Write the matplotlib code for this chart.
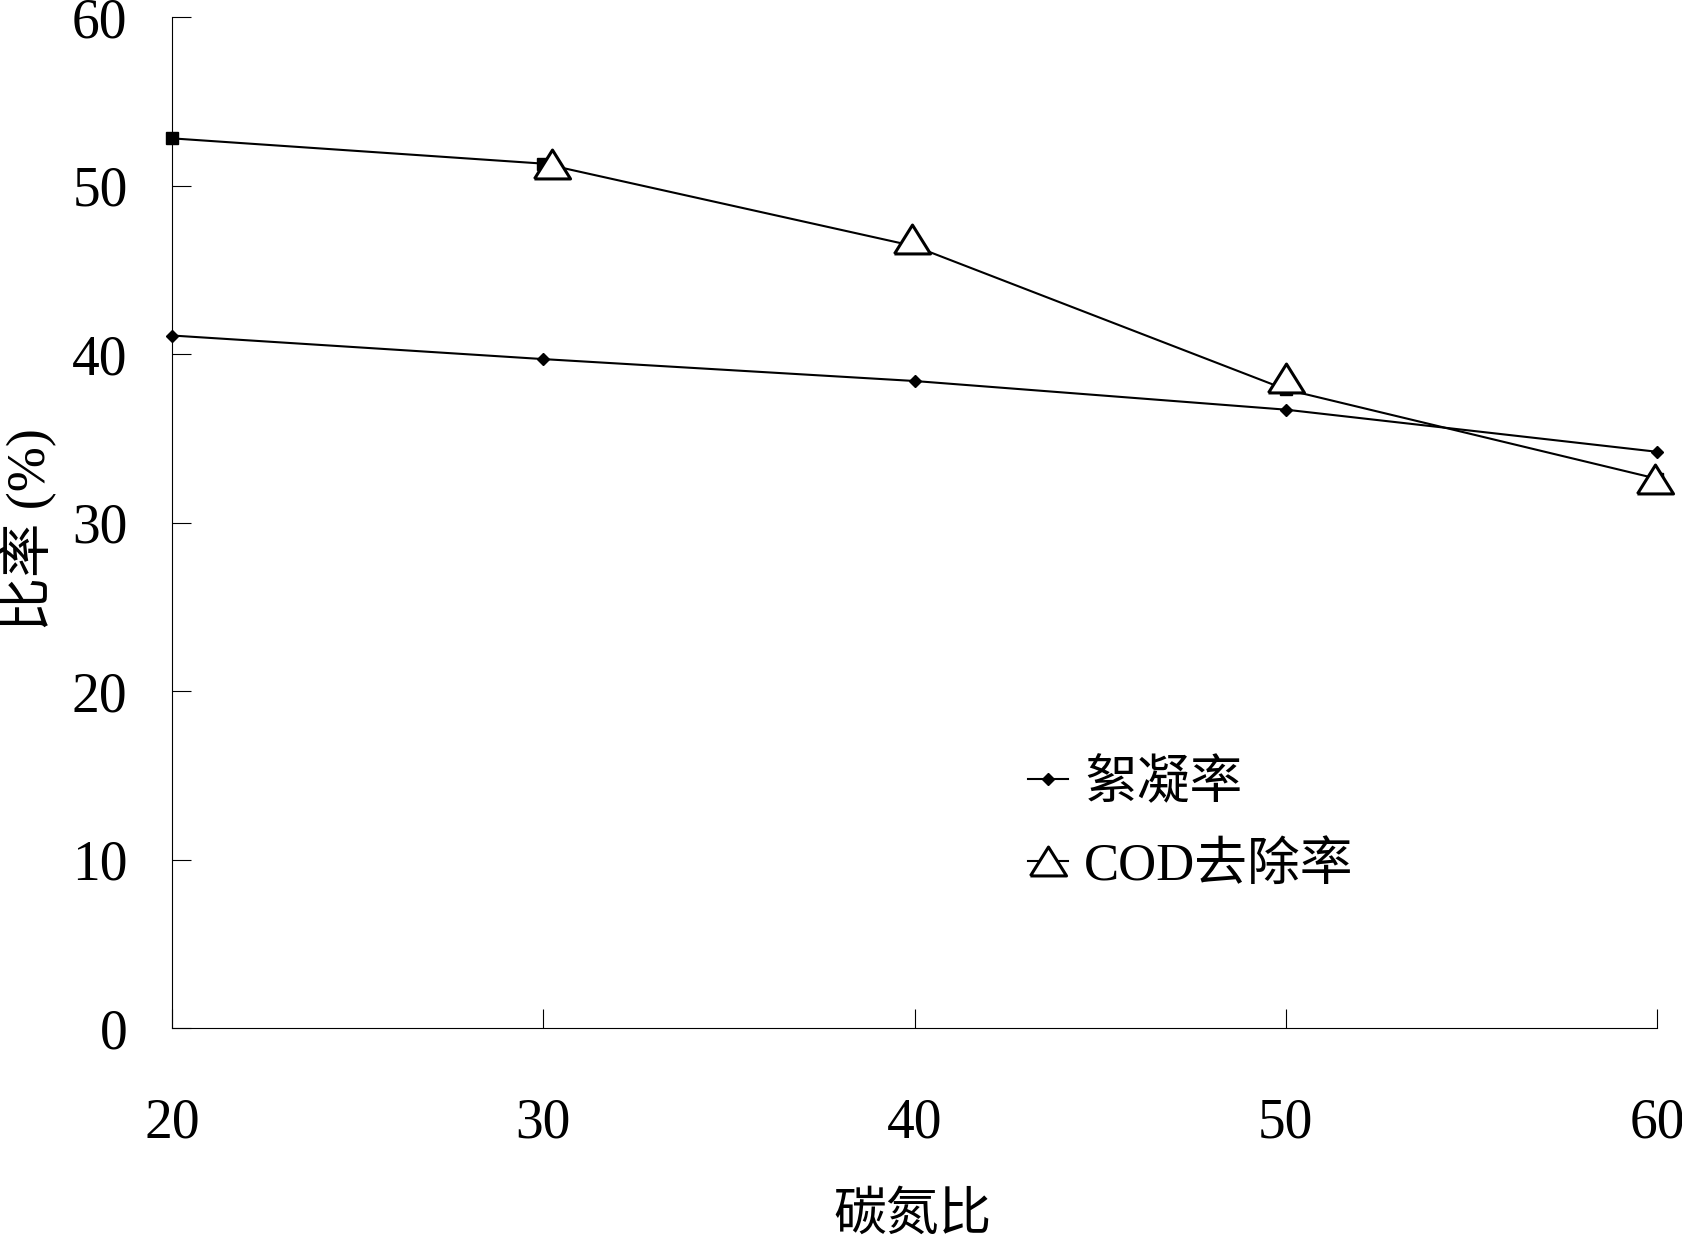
import matplotlib
matplotlib.use("Agg")
import matplotlib.pyplot as plt

plt.rcParams['font.family'] = ['Liberation Serif', 'Noto Sans CJK SC']

# data
cn_ratio = [20, 30, 40, 50, 60]
floc_rate = [41.1, 39.7, 38.4, 36.7, 34.2]
cod_removal = [52.8, 51.3, 46.4, 37.9, 32.6]
# hand-placed triangle markers sit slightly off the line points
tri_x = [30.24, 39.92, 50.0, 59.95]
tri_y = [51.3, 46.85, 38.55, 32.6]

xticks = [20, 30, 40, 50, 60]
yticks = [0, 10, 20, 30, 40, 50, 60]

tri = [(-0.5, -0.4), (0.5, -0.4), (0.0, 0.4), (-0.5, -0.4)]

fig = plt.figure(figsize=(16.82, 12.44), dpi=100)
ax = fig.add_axes([0.1023, 0.1736, 0.8828, 0.8127])

ax.plot(cn_ratio, floc_rate, color='black', lw=1.5, marker='D', ms=5.8,
        mfc='black', mec='black', zorder=3, clip_on=False)
ax.plot(cn_ratio, cod_removal, color='black', lw=1.5, marker='s', ms=8.5,
        mfc='black', mec='black', zorder=3, clip_on=False)
ax.plot(tri_x, tri_y, ls='none', marker=tri, ms=26, mfc='white',
        mec='black', mew=2.2, zorder=4, clip_on=False)

# legend handles
h1, = ax.plot([], [], color='black', lw=1.5, marker='D', ms=5.8, mfc='black')
h2, = ax.plot([], [], color='black', lw=1.5, marker=tri, ms=26, mfc='white',
              mec='black', mew=2.2)
ax.legend([h1, h2], ['絮凝率', 'COD去除率'], loc='upper left',
          bbox_to_anchor=(0.559, 0.292), frameon=False, fontsize=38,
          borderpad=0, handlelength=0.75, handletextpad=0.3,
          labelspacing=0.62)

ax.set_xlim(20, 60)
ax.set_ylim(0, 60)
ax.set_xticks(xticks)
ax.set_yticks(yticks)
ax.tick_params(axis='x', direction='in', length=14, width=0.8, pad=50, labelsize=40)
ax.tick_params(axis='y', direction='in', length=14, width=0.8, pad=32, labelsize=40)
ax.spines['top'].set_visible(False)
ax.spines['right'].set_visible(False)
for s in ['left', 'bottom']:
    ax.spines[s].set_linewidth(0.8)

ax.set_xlabel('碳氮比', fontsize=38, va='center')
ax.xaxis.set_label_coords(0.499, -0.186)
ax.set_ylabel('比率 (%)', fontsize=39, va='center')
ax.yaxis.set_label_coords(-0.0976, 0.4926)

fig.savefig('out.png', dpi=100)
